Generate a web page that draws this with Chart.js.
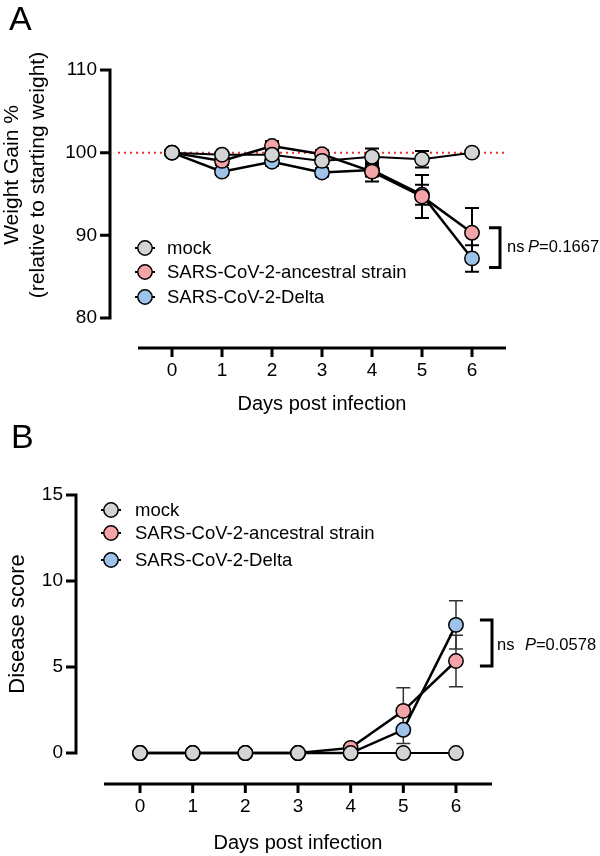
<!DOCTYPE html>
<html><head><meta charset="utf-8">
<script src="https://cdn.jsdelivr.net/npm/chart.js@4.4.0/dist/chart.umd.min.js"></script>
<style>
html,body{margin:0;padding:0;background:#fff;}
#wrap{position:relative;width:600px;height:856px;overflow:hidden;}
canvas{position:absolute;left:0;}
#cA{top:0}
#cB{top:400px}
</style></head><body>
<div id="wrap"><canvas id="cA" width="600" height="428"></canvas><canvas id="cB" width="600" height="456"></canvas></div>
<script>
const days = [0, 1, 2, 3, 4, 5, 6];
const seriesNames = ['mock', 'SARS-CoV-2-ancestral strain', 'SARS-CoV-2-Delta'];
const seriesColors = ['#d4d4d4', '#f4a3a6', '#9dc3ea'];

const weightMock = [100, 99.75, 99.75, 99.0, 99.5, 99.2, 100];
const weightMockErr = [0, 0.3, 0.6, 1.0, 1.0, 1.0, 0];
const weightAncestral = [100, 99.0, 100.8, 99.8, 97.7, 94.7, 90.3];
const weightAncestralErr = [0, 0.5, 0.6, 0.5, 1.2, 2.6, 3.0];
const weightDelta = [100, 97.7, 98.9, 97.6, 97.9, 94.9, 87.2];
const weightDeltaErr = [0, 0.4, 0.5, 0.5, 0.8, 1.2, 1.6];
const weightTicks = [80, 90, 100, 110];

const scoreMock = [0, 0, 0, 0, 0, 0, 0];
const scoreMockErr = [0, 0, 0, 0, 0, 0, 0];
const scoreAncestral = [0, 0, 0, 0, 0.3, 2.45, 5.35];
const scoreAncestralErr = [0, 0, 0, 0, 0, 1.35, 1.5];
const scoreDelta = [0, 0, 0, 0, 0, 1.35, 7.45];
const scoreDeltaErr = [0, 0, 0, 0, 0, 0.8, 1.4];
const scoreTicks = [0, 5, 10, 15];

const FONT = "'Liberation Sans', Arial, Helvetica, sans-serif";

function pts(vals) { return days.map((d, i) => ({ x: d, y: vals[i] })); }

function makeDatasets(seriesList) {
  return seriesList.map((vals, i) => ({
    label: seriesNames[i],
    data: pts(vals),
    borderColor: '#000',
    borderWidth: i === 0 ? 2 : 2.5,
    backgroundColor: seriesColors[i],
    pointBackgroundColor: seriesColors[i],
    pointBorderColor: '#000',
    pointBorderWidth: 1.5,
    pointRadius: 7.2,
    pointHoverRadius: 7.2,
    tension: 0,
    fill: false
  }));
}

const decor = {
  id: 'decor',
  beforeDatasetsDraw(chart, args, o) {
    const ctx = chart.ctx, xs = chart.scales.x, ys = chart.scales.y;
    ctx.save();
    if (o.refLine) {
      const y = ys.getPixelForValue(o.refLine.value);
      ctx.strokeStyle = '#e8332a';
      ctx.lineWidth = 2;
      ctx.setLineDash([2, 4]);
      ctx.beginPath();
      ctx.moveTo(xs.getPixelForValue(o.refLine.from), y);
      ctx.lineTo(xs.getPixelForValue(o.refLine.to), y);
      ctx.stroke();
      ctx.setLineDash([]);
    }
    ctx.strokeStyle = o.errColor;
    ctx.lineWidth = o.errWidth;
    for (let di = chart.data.datasets.length - 1; di >= 0; di--) {
      const ds = chart.data.datasets[di];
      const err = o.errors[di];
      ds.data.forEach((p, i) => {
        const e = err[i];
        if (!e) return;
        const x = xs.getPixelForValue(p.x);
        const y1 = ys.getPixelForValue(p.y + e), y2 = ys.getPixelForValue(p.y - e);
        ctx.beginPath();
        ctx.moveTo(x, y1); ctx.lineTo(x, y2);
        ctx.moveTo(x - 7, y1); ctx.lineTo(x + 7, y1);
        ctx.moveTo(x - 7, y2); ctx.lineTo(x + 7, y2);
        ctx.stroke();
      });
    }
    ctx.restore();
  },
  afterDraw(chart, args, o) {
    const ctx = chart.ctx, xs = chart.scales.x, ys = chart.scales.y, ca = chart.chartArea;
    ctx.save();
    ctx.strokeStyle = '#000';
    ctx.fillStyle = '#000';
    ctx.lineWidth = 3;
    // y axis
    const yTop = ys.getPixelForValue(o.yTicks[o.yTicks.length - 1]);
    const yBot = ys.getPixelForValue(o.yTicks[0]);
    ctx.beginPath();
    ctx.moveTo(o.yAxisX, yTop - 1.5);
    ctx.lineTo(o.yAxisX, yBot + 1.5);
    o.yTicks.forEach(v => {
      const y = ys.getPixelForValue(v);
      ctx.moveTo(o.yAxisX - 10, y); ctx.lineTo(o.yAxisX, y);
    });
    ctx.stroke();
    // x axis
    ctx.beginPath();
    ctx.moveTo(ca.left, ca.bottom);
    ctx.lineTo(ca.right, ca.bottom);
    days.forEach(d => {
      const x = xs.getPixelForValue(d);
      ctx.moveTo(x, ca.bottom); ctx.lineTo(x, ca.bottom + 9);
    });
    ctx.stroke();
    // x title
    ctx.font = '20px ' + FONT;
    ctx.textAlign = 'center';
    ctx.textBaseline = 'middle';
    ctx.fillText(o.xTitle, (ca.left + ca.right) / 2, o.xTitleY);
    // y title
    ctx.font = o.yTitleSize + 'px ' + FONT;
    o.yTitle.forEach((line, i) => {
      ctx.save();
      ctx.translate(o.yTitleX[i], o.yTitleCY);
      ctx.rotate(-Math.PI / 2);
      ctx.fillText(line, 0, 0);
      ctx.restore();
    });
    // panel letter
    ctx.font = '34px ' + FONT;
    ctx.textAlign = 'left';
    ctx.textBaseline = 'alphabetic';
    ctx.fillText(o.letter, o.letterPos[0], o.letterPos[1]);
    // legend
    ctx.font = '18.5px ' + FONT;
    ctx.textBaseline = 'middle';
    chart.data.datasets.forEach((ds, i) => {
      const cy = o.legend.y[i], cx = o.legend.x;
      ctx.lineWidth = 2;
      ctx.beginPath();
      ctx.moveTo(cx - 10, cy); ctx.lineTo(cx + 10, cy);
      ctx.stroke();
      ctx.beginPath();
      ctx.arc(cx, cy, 7.2, 0, Math.PI * 2);
      ctx.fillStyle = ds.pointBackgroundColor;
      ctx.fill();
      ctx.lineWidth = 1.5;
      ctx.stroke();
      ctx.fillStyle = '#000';
      ctx.fillText(ds.label, o.legend.textX, cy + 1);
    });
    // bracket
    const b = o.bracket;
    const bx1 = xs.getPixelForValue(b.x1), bx2 = xs.getPixelForValue(b.x2);
    const by1 = ys.getPixelForValue(b.y1), by2 = ys.getPixelForValue(b.y2);
    ctx.lineWidth = 3;
    ctx.beginPath();
    ctx.moveTo(bx1, by1); ctx.lineTo(bx2, by1); ctx.lineTo(bx2, by2); ctx.lineTo(bx1, by2);
    ctx.stroke();
    const ty = ys.getPixelForValue(b.textY);
    ctx.font = '16.5px ' + FONT;
    ctx.textAlign = 'left';
    ctx.fillText('ns', xs.getPixelForValue(b.nsX), ty);
    let px = xs.getPixelForValue(b.pX);
    ctx.font = 'italic 16.5px ' + FONT;
    ctx.fillText('P', px, ty);
    px += ctx.measureText('P').width;
    ctx.font = '16.5px ' + FONT;
    ctx.fillText('=' + b.p, px, ty);
    ctx.restore();
  }
};

function makeChart(id, datasets, cfg) {
  return new Chart(document.getElementById(id), {
    type: 'line',
    data: { datasets },
    options: {
      responsive: false,
      animation: false,
      devicePixelRatio: 1,
      events: [],
      layout: { padding: { top: cfg.top, right: cfg.right, left: 0, bottom: 0 } },
      scales: {
        x: {
          type: 'linear', min: cfg.xMin, max: cfg.xMax,
          grid: { display: false, drawTicks: false }, border: { display: false },
          ticks: { padding: 11, font: { family: FONT, size: 19 }, color: '#000' },
          afterBuildTicks: s => { s.ticks = days.map(v => ({ value: v })); },
          afterFit: s => { s.height = cfg.xHeight; }
        },
        y: {
          type: 'linear', min: cfg.yMin, max: cfg.yMax,
          grid: { display: false, drawTicks: false }, border: { display: false },
          ticks: { padding: 41, font: { family: FONT, size: 19 }, color: '#000' },
          afterBuildTicks: s => { s.ticks = cfg.yTicks.map(v => ({ value: v })); },
          afterFit: s => { s.width = cfg.yWidth; }
        }
      },
      plugins: {
        legend: { display: false },
        tooltip: { enabled: false },
        decor: cfg.decor
      }
    },
    plugins: [decor]
  });
}

makeChart('cA', makeDatasets([weightMock, weightAncestral, weightDelta]), {
  top: 70, right: 94, yWidth: 138, xHeight: 80,
  xMin: -0.68, xMax: 6.68, yMin: 76.36, yMax: 110, yTicks: weightTicks,
  decor: {
    refLine: { value: 100, from: -1.08, to: 6.66 },
    errors: [weightMockErr, weightAncestralErr, weightDeltaErr],
    errColor: '#000', errWidth: 2,
    yTicks: weightTicks, yAxisX: 110,
    xTitle: 'Days post infection', xTitleY: 404,
    yTitle: ['Weight Gain %', '(relative to starting weight)'], yTitleX: [12, 38], yTitleCY: 175, yTitleSize: 21,
    letter: 'A', letterPos: [9, 30],
    legend: { x: 145, textX: 167, y: [248, 272, 297] },
    bracket: { x1: 6.34, x2: 6.56, y1: 90.9, y2: 86.1, textY: 88.5, nsX: 6.7, pX: 7.12, p: '0.1667' }
  }
});

makeChart('cB', makeDatasets([scoreMock, scoreAncestral, scoreDelta]), {
  top: 95, right: 108, yWidth: 104, xHeight: 72,
  xMin: -0.684, xMax: 6.684, yMin: -1.8, yMax: 15, yTicks: scoreTicks,
  decor: {
    refLine: null,
    errors: [scoreMockErr, scoreAncestralErr, scoreDeltaErr],
    errColor: '#333', errWidth: 1.5,
    yTicks: scoreTicks, yAxisX: 76,
    xTitle: 'Days post infection', xTitleY: 443,
    yTitle: ['Disease score'], yTitleX: [18], yTitleCY: 224, yTitleSize: 22,
    letter: 'B', letterPos: [11, 48],
    legend: { x: 111, textX: 135, y: [110, 133, 160] },
    bracket: { x1: 6.455, x2: 6.684, y1: 7.73, y2: 5.06, textY: 6.28, nsX: 6.78, pX: 7.31, p: '0.0578' }
  }
});
</script>
</body></html>
